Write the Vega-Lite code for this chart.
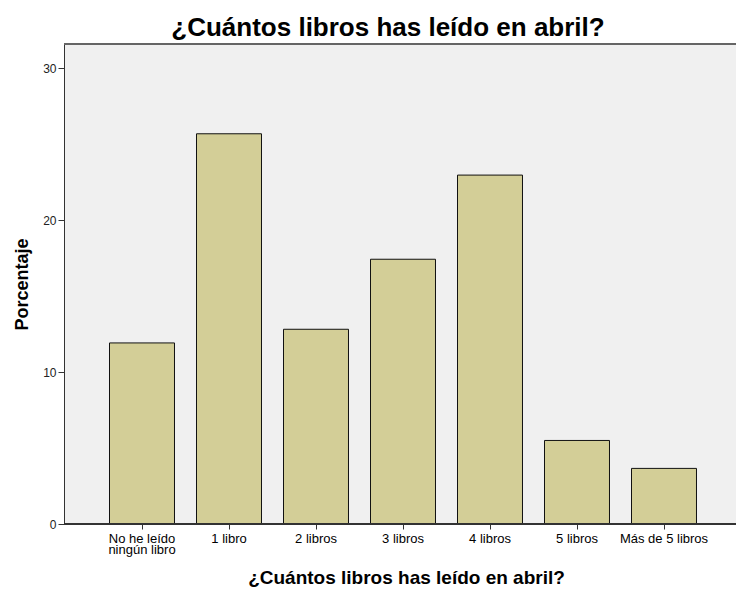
{
  "$schema": "https://vega.github.io/schema/vega-lite/v6.json",
  "autosize": {"type": "none"},
  "width": 672,
  "height": 480,
  "padding": {"left": 64, "top": 44, "right": 0, "bottom": 65},
  "background": "#ffffff",
  "title": {
    "text": "¿Cuántos libros has leído en abril?",
    "font": "Liberation Sans",
    "fontSize": 26,
    "fontWeight": "bold",
    "color": "#000000",
    "anchor": "middle",
    "dx": -12,
    "baseline": "alphabetic",
    "offset": -19
  },
  "config": {
    "view": {"stroke": null, "fill": "#F0F0F0"},
    "font": "Liberation Sans"
  },
  "data": {
    "values": [
      {"categoria": "No he leído ningún libro", "porcentaje": 11.92},
      {"categoria": "1 libro", "porcentaje": 25.69},
      {"categoria": "2 libros", "porcentaje": 12.82},
      {"categoria": "3 libros", "porcentaje": 17.43},
      {"categoria": "4 libros", "porcentaje": 22.97},
      {"categoria": "5 libros", "porcentaje": 5.5},
      {"categoria": "Más de 5 libros", "porcentaje": 3.66}
    ]
  },
  "layer": [
    {
      "mark": {"type": "bar", "fill": "#D3CE97", "stroke": "#111111", "strokeWidth": 1},
      "encoding": {
        "x": {
          "field": "categoria",
          "type": "nominal",
          "sort": null,
          "scale": {"range": [34.5, 643.5], "paddingInner": 0.2529, "paddingOuter": 0.12645},
          "axis": {
            "title": "¿Cuántos libros has leído en abril?",
            "titleFont": "Liberation Sans",
            "titleFontSize": 19,
            "titleFontWeight": "bold",
            "titleColor": "#000000",
            "titlePadding": 12,
            "titleX": 342,
            "labelAngle": 0,
            "labelFont": "Liberation Sans",
            "labelFontSize": 13,
            "labelColor": "#000000",
            "labelPadding": 3,
            "labelLineHeight": 11,
            "labelExpr": "datum.label == 'No he leído ningún libro' ? ['No he leído', 'ningún libro'] : datum.label",
            "domain": false,
            "tickColor": "#333333",
            "tickSize": 5,
            "labelLimit": 0
          }
        },
        "y": {
          "field": "porcentaje",
          "type": "quantitative",
          "scale": {"domain": [0, 31.6], "nice": false},
          "axis": {
            "title": "Porcentaje",
            "titleFont": "Liberation Sans",
            "titleFontSize": 18,
            "titleFontWeight": "bold",
            "titleColor": "#000000",
            "titlePadding": 11,
            "values": [0, 10, 20, 30],
            "labelFont": "Liberation Sans",
            "labelFontSize": 12,
            "labelColor": "#222222",
            "labelPadding": 2,
            "grid": false,
            "domainColor": "#333333",
            "tickColor": "#333333",
            "tickSize": 6
          }
        }
      }
    },
    {
      "mark": {"type": "rule", "stroke": "#666666", "strokeWidth": 1.5},
      "encoding": {"y": {"datum": 31.6, "type": "quantitative"}}
    },
    {
      "mark": {"type": "rule", "stroke": "#333333", "strokeWidth": 1},
      "encoding": {"y": {"datum": 0, "type": "quantitative"}}
    }
  ]
}
